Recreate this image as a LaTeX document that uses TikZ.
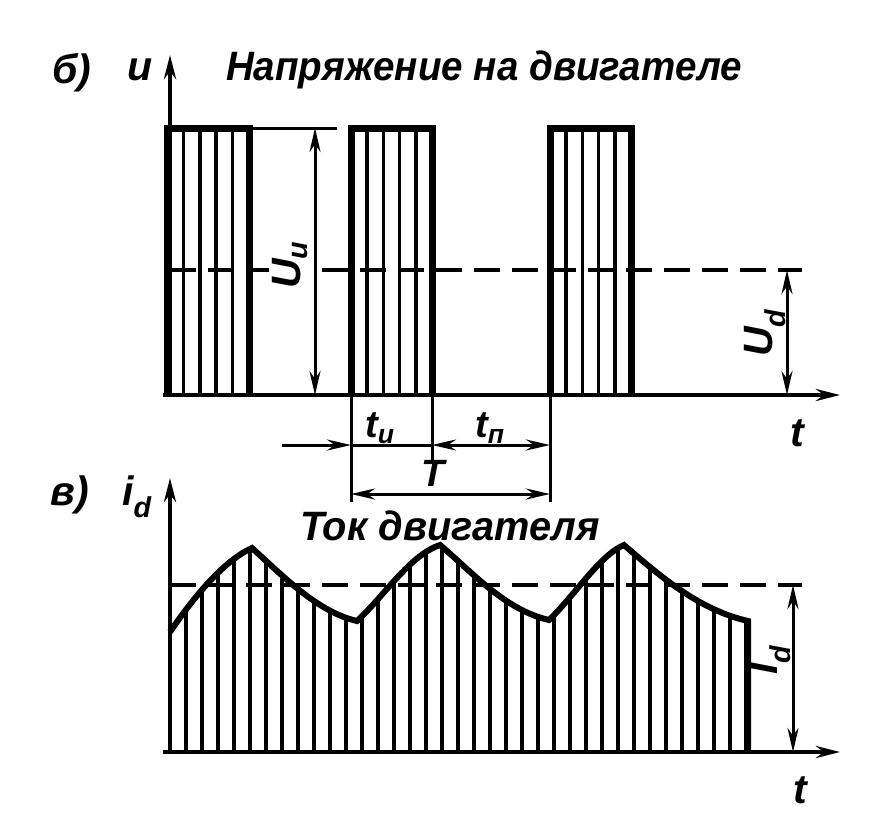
\documentclass[tikz,border=0pt]{standalone}
\usepackage{fontspec}
\setmainfont{Liberation Sans}
\usetikzlibrary{arrows.meta}
\begin{document}
\begin{tikzpicture}[x=1pt,y=-1pt,
  pulse/.style={line width=7pt,line join=miter},
  hatch/.style={line width=3.6pt},
  axisline/.style={line width=4.4pt,-{Stealth[length=24pt,width=12pt]}},
  dimline/.style={line width=3pt},
  dimtip/.style={{Stealth[length=24pt,width=11pt]}-{Stealth[length=24pt,width=11pt]}},
  dashline/.style={line width=3.4pt,dash pattern=on 26pt off 12pt},
  curveline/.style={line width=6pt,line join=miter},
  lab/.style={font=\fontsize{41}{44}\selectfont\bfseries\itshape,inner sep=0pt},
  labm/.style={font=\fontsize{38}{40}\selectfont\bfseries\itshape,inner sep=0pt},
]
\useasboundingbox (0,0) rectangle (878,815);
% ---------- top graph ----------
\foreach \a/\b in {167/249, 351/432, 550/631}{
  \foreach \k in {1,...,4}{
    \draw[hatch] ({\a+\k*(\b-\a)/5},128) -- ({\a+\k*(\b-\a)/5},395);
  }
  \draw[pulse] (\a,397) -- (\a,128) -- (\b,128) -- (\b,397);
}
\draw[dimline] (249,128) -- (337,128);
\draw[dashline] (170,270) -- (802,270);
\draw[axisline] (170,397) -- (170,55);
\draw[axisline] (163,395) -- (840,395);
\coordinate (uh) at (315,128);
\coordinate (ul) at (315,395);
\draw[dimline,dimtip] (uh) -- (ul);
\coordinate (udh) at (787,270);
\coordinate (udl) at (787,395);
\draw[dimline,dimtip] (udh) -- (udl);
% timing dimensions
\coordinate (v1) at (351,502);
\coordinate (v2) at (432,462);
\coordinate (v3) at (550,502);
\draw[dimline] (351,395) -- (v1);
\draw[dimline] (432,395) -- (v2);
\draw[dimline] (550,395) -- (v3);
\coordinate (ta0) at (282,445);
\coordinate (ta1) at (351,445);
\coordinate (ta2) at (432,445);
\coordinate (ta3) at (550,445);
\draw[dimline,-{Stealth[length=24pt,width=11pt]}] (ta0) -- (ta1);
\draw[dimline] (ta1) -- (ta2);
\draw[dimline,dimtip] (ta2) -- (ta3);
\coordinate (T1) at (351,494);
\coordinate (T2) at (550,494);
\draw[dimline,dimtip] (T1) -- (T2);
% ---------- bottom graph ----------
\begin{scope}
  \clip (170,632) .. controls (195,595) and (225,560) .. (252,548)
     .. controls (285,578) and (318,612) .. (357,621)
     .. controls (385,595) and (410,555) .. (440,545)
     .. controls (472,572) and (505,610) .. (549,620)
     .. controls (575,595) and (600,555) .. (624,545)
     .. controls (662,578) and (700,610) .. (748,621)
     -- (748,760) -- (170,760) -- cycle;
  \foreach \k in {0,...,36}{
    \draw[hatch] ({170+16*\k},752) -- ({170+16*\k},500);
  }
\end{scope}
\draw[curveline] (170,632) .. controls (195,595) and (225,560) .. (252,548)
     .. controls (285,578) and (318,612) .. (357,621)
     .. controls (385,595) and (410,555) .. (440,545)
     .. controls (472,572) and (505,610) .. (549,620)
     .. controls (575,595) and (600,555) .. (624,545)
     .. controls (662,578) and (700,610) .. (748,621)
     -- (748,752);
\draw[dashline] (170,585) -- (802,585);
\draw[axisline] (170,754) -- (170,478);
\draw[axisline] (163,752) -- (840,752);
\coordinate (idh) at (793,585);
\coordinate (idl) at (793,752);
\draw[dimline,dimtip] (idh) -- (idl);
% ---------- labels ----------
\node[lab] (lb) at (72,73) {б)};
\node[lab] (lu) at (140,70) {u};
\node[lab,xscale=0.94] (ltitle) at (484,70) {Напряжение на двигателе};
\node[lab] (lt1) at (797,433) {t};
\node[labm] (lti) at (380,428) {t\textsubscript{и}};
\node[labm] (ltp) at (490,428) {t\textsubscript{п}};
\node[labm] (lT) at (433,473) {T};
\node[lab,rotate=90,fill=white,inner sep=3pt] (lUi) at (290,265) {U\textsubscript{и}};
\node[lab,rotate=90] (lUd) at (765,333) {U\textsubscript{d}};
\node[lab] (lv) at (70,495) {в)};
\node[lab] (lid) at (137,497) {i\textsubscript{d}};
\node[lab,xscale=0.97] (ltok) at (450,526) {Ток двигателя};
\node[lab,rotate=90] (lId) at (770,660) {I\textsubscript{d}};
\node[lab] (lt2) at (800,790) {t};
\end{tikzpicture}
\end{document}
